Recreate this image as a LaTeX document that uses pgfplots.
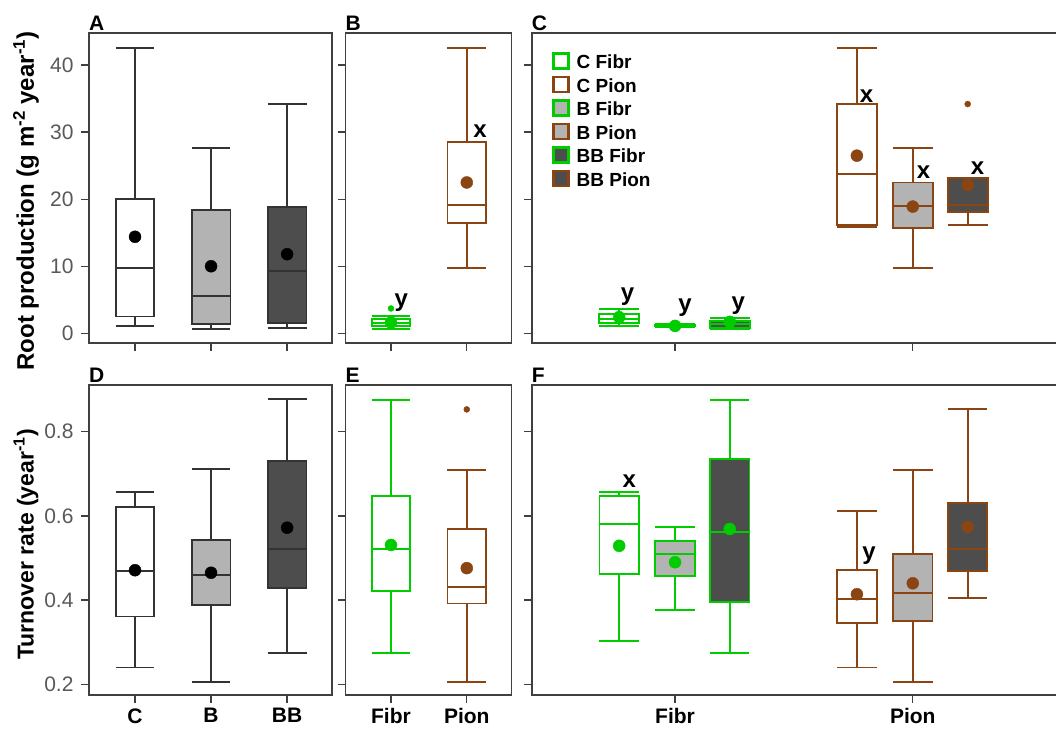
\documentclass[border=0pt]{standalone}
\usepackage{fontspec}
\setmainfont{Liberation Sans}
\usepackage{pgfplots}
\pgfplotsset{compat=1.18}
\usepgfplotslibrary{statistics}
\definecolor{grn}{RGB}{0,204,0}
\definecolor{brn}{RGB}{139,69,19}
\definecolor{lgray}{RGB}{179,179,179}
\definecolor{dgray}{RGB}{77,77,77}
\definecolor{axgray}{RGB}{64,64,64}
\definecolor{tickgray}{RGB}{89,89,89}
\definecolor{boxblk}{RGB}{51,51,51}
\newcommand{\fs}[1]{\fontsize{#1}{#1}\selectfont}
% \bp{color}{fill}{pos}{width}{lw}{q1}{med}{q3}{uw}
\newcommand{\bp}[9]{\addplot[draw=#1, line width=1.9pt, forget plot, boxplot/draw direction=y,
  boxplot/every box/.style={draw=#1, fill=#2, line width=1.9pt},
  boxplot/every whisker/.style={draw=#1, line width=1.9pt},
  boxplot/every median/.style={draw=#1, line width=2pt},
  boxplot prepared={draw position=#3, box extend=#4, whisker extend=#4, lower whisker=#5, lower quartile=#6, median=#7, upper quartile=#8, upper whisker=#9}] coordinates {};}
\pgfplotsset{
  panel/.style={scale only axis, anchor=south west, height=310pt,
    axis line style={draw=axgray, line width=1.8pt},
    tick style={draw=axgray, line width=1.4pt},
    tick align=outside, major tick length=8pt, tick pos=left,
    /pgf/number format/assume math mode=true,
    yticklabel style={font=\fs{21}, text=tickgray, xshift=-4pt},
    xticklabel style={font=\bfseries\fs{21}, text=black, yshift=-2pt},
    clip=false},
  toprow/.style={panel, ymin=-1.45, ymax=44.8, ytick={0,10,20,30,40}, xticklabels={}},
  botrow/.style={panel, ymin=0.1746, ymax=0.911, ytick={0.2,0.4,0.6,0.8},
    yticklabel style={/pgf/number format/.cd, fixed, fixed zerofill, precision=1}},
  mn/.style={only marks, mark=*, mark size=6pt, forget plot},
  ol/.style={only marks, mark=*, mark size=3pt, forget plot},
}
\tikzset{
  letter/.style={font=\bfseries\fs{24}, inner sep=0pt},
  plab/.style={font=\bfseries\fs{21}, inner sep=0pt, anchor=south west, yshift=2pt},
}
\begin{document}
\begin{tikzpicture}
\useasboundingbox (0,0) rectangle (1056pt,728pt);
% ---------------- A
\begin{axis}[toprow, at={(89pt,385pt)}, width=243pt, xmin=0.395, xmax=3.59, xtick={1,2,3}]
\bp{boxblk}{white}{1}{0.51}{1.1}{2.5}{9.7}{20.0}{42.6}
\bp{boxblk}{lgray}{2}{0.51}{0.6}{1.4}{5.6}{18.4}{27.6}
\bp{boxblk}{dgray}{3}{0.51}{0.75}{1.6}{9.3}{18.9}{34.2}
\addplot[mn, black] coordinates {(1,14.4) (2,10.0) (3,11.8)};
\node[plab] at (rel axis cs:0,1) {A};
\end{axis}
% ---------------- B
\begin{axis}[toprow, at={(345.5pt,385pt)}, width=166pt, xmin=0.4, xmax=2.59, xtick={1,2}, yticklabels={}]
\bp{grn}{white}{1}{0.51}{0.6}{1.1}{1.6}{2.1}{2.6}
\bp{brn}{white}{2}{0.51}{9.7}{16.4}{19.1}{28.6}{42.6}
\addplot[mn, grn] coordinates {(1,1.6)};
\addplot[mn, brn] coordinates {(2,22.5)};
\addplot[ol, grn] coordinates {(1,3.7)};
\node[letter] at (axis cs:1.135,4.6) {y};
\node[letter] at (axis cs:2.175,30.1) {x};
\node[plab] at (rel axis cs:0,1) {B};
\end{axis}
% ---------------- C
\begin{axis}[toprow, at={(531.7pt,385pt)}, width=526.3pt, xmin=0.397, xmax=2.611, xtick={1,2}, yticklabels={},
  legend image code/.code={\draw[#1] (0pt,-7.5pt) rectangle (15pt,7.5pt);},
  legend style={at={(0.039,0.938)}, anchor=north west, draw=none, fill=none, inner sep=0pt,
    font=\bfseries\fs{19}, row sep=6.3pt, cells={anchor=west},
    nodes={inner sep=0pt, text height=15pt, text depth=0pt},
    /tikz/every odd column/.append style={column sep=7pt}}]
\addlegendimage{draw=grn, fill=white, line width=2.2pt}\addlegendentry{C Fibr}
\addlegendimage{draw=brn, fill=white, line width=2.2pt}\addlegendentry{C Pion}
\addlegendimage{draw=grn, fill=lgray, line width=2.2pt}\addlegendentry{B Fibr}
\addlegendimage{draw=brn, fill=lgray, line width=2.2pt}\addlegendentry{B Pion}
\addlegendimage{draw=grn, fill=dgray, line width=2.2pt}\addlegendentry{BB Fibr}
\addlegendimage{draw=brn, fill=dgray, line width=2.2pt}\addlegendentry{BB Pion}
\bp{grn}{white}{0.765}{0.168}{1.1}{1.6}{2.2}{2.9}{3.6}
\bp{grn}{lgray}{1}{0.168}{1.0}{1.1}{1.2}{1.3}{1.4}
\bp{grn}{dgray}{1.23}{0.168}{0.7}{0.75}{1.45}{1.8}{2.3}
\bp{brn}{white}{1.765}{0.168}{15.8}{16.2}{23.8}{34.2}{42.6}
\bp{brn}{lgray}{2}{0.168}{9.7}{15.7}{19.0}{22.5}{27.6}
\bp{brn}{dgray}{2.231}{0.168}{16.2}{18.1}{19.2}{23.2}{23.2}
\addplot[mn, grn] coordinates {(0.765,2.4) (1,1.1) (1.23,1.7)};
\addplot[mn, brn] coordinates {(1.765,26.5) (2,18.9) (2.231,22.1)};
\addplot[ol, brn] coordinates {(2.231,34.2)};
\node[letter] at (axis cs:0.80,5.46) {y};
\node[letter] at (axis cs:1.042,3.8) {y};
\node[letter] at (axis cs:1.266,4.15) {y};
\node[letter] at (axis cs:1.806,35.4) {x};
\node[letter] at (axis cs:2.045,24.0) {x};
\node[letter] at (axis cs:2.272,24.6) {x};
\node[plab] at (rel axis cs:0,1) {C};
\end{axis}
% ---------------- D
\begin{axis}[botrow, at={(89pt,33pt)}, width=243pt, xmin=0.395, xmax=3.59, xtick={1,2,3}, xticklabels={C,B,BB}]
\bp{boxblk}{white}{1}{0.51}{0.240}{0.361}{0.469}{0.622}{0.657}
\bp{boxblk}{lgray}{2}{0.51}{0.206}{0.388}{0.460}{0.543}{0.711}
\bp{boxblk}{dgray}{3}{0.51}{0.275}{0.429}{0.521}{0.730}{0.877}
\addplot[mn, black] coordinates {(1,0.471) (2,0.465) (3,0.572)};
\node[plab] at (rel axis cs:0,1) {D};
\end{axis}
% ---------------- E
\begin{axis}[botrow, at={(345.5pt,33pt)}, width=166pt, xmin=0.4, xmax=2.59, xtick={1,2}, xticklabels={Fibr,Pion}, yticklabels={}]
\bp{grn}{white}{1}{0.51}{0.275}{0.422}{0.522}{0.648}{0.875}
\bp{brn}{white}{2}{0.51}{0.206}{0.392}{0.432}{0.569}{0.709}
\addplot[mn, grn] coordinates {(1,0.531)};
\addplot[mn, brn] coordinates {(2,0.476)};
\addplot[ol, brn] coordinates {(2,0.853)};
\node[plab] at (rel axis cs:0,1) {E};
\end{axis}
% ---------------- F
\begin{axis}[botrow, at={(531.7pt,33pt)}, width=526.3pt, xmin=0.397, xmax=2.611, xtick={1,2}, xticklabels={Fibr,Pion}, yticklabels={}]
\bp{grn}{white}{0.765}{0.166}{0.303}{0.461}{0.580}{0.648}{0.657}
\bp{grn}{lgray}{1}{0.166}{0.376}{0.457}{0.510}{0.541}{0.574}
\bp{grn}{dgray}{1.23}{0.166}{0.275}{0.396}{0.563}{0.735}{0.875}
\bp{brn}{white}{1.765}{0.166}{0.240}{0.345}{0.402}{0.472}{0.612}
\bp{brn}{lgray}{2}{0.166}{0.206}{0.351}{0.418}{0.509}{0.709}
\bp{brn}{dgray}{2.231}{0.166}{0.404}{0.469}{0.521}{0.630}{0.853}
\addplot[mn, grn] coordinates {(0.765,0.529) (1,0.490) (1.23,0.569)};
\addplot[mn, brn] coordinates {(1.765,0.414) (2,0.440) (2.231,0.574)};
\node[letter] at (axis cs:0.808,0.682) {x};
\node[letter] at (axis cs:1.816,0.506) {y};
\node[plab] at (rel axis cs:0,1) {F};
\end{axis}
% ---------------- y labels
\node[rotate=90, font=\bfseries\fs{24}, inner sep=0pt] at (26pt,527pt) {Root production (g m\textsuperscript{-2} year\textsuperscript{-1})};
\node[rotate=90, font=\bfseries\fs{23}, inner sep=0pt] at (26pt,183.5pt) {Turnover rate (year\textsuperscript{-1})};
\end{tikzpicture}
\end{document}
